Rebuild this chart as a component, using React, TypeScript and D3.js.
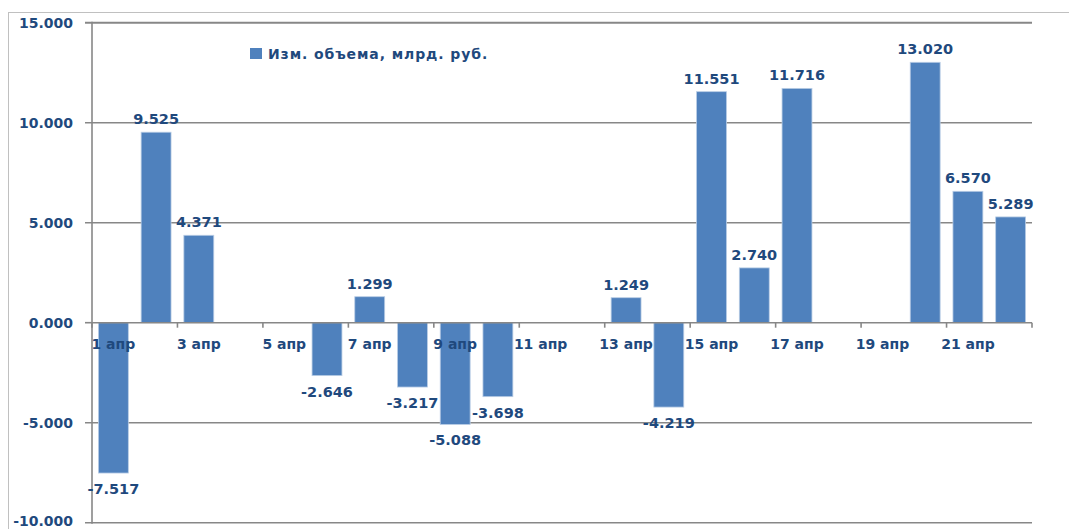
import React from "react";
import * as d3 from "d3";

const days = ["1 апр","2 апр","3 апр","4 апр","5 апр","6 апр","7 апр","8 апр","9 апр","10 апр","11 апр","12 апр","13 апр","14 апр","15 апр","16 апр","17 апр","18 апр","19 апр","20 апр","21 апр","22 апр"];
const values: (number | null)[] = [-7.517, 9.525, 4.371, null, null, -2.646, 1.299, -3.217, -5.088, -3.698, null, null, 1.249, -4.219, 11.551, 2.74, 11.716, null, null, 13.02, 6.57, 5.289];
const yTicks = [-10, -5, 0, 5, 10, 15];
const yTickLabels = ["-10.000", "-5.000", "0.000", "5.000", "10.000", "15.000"];
const seriesName = "Изм. объема, млрд. руб.";

const W = 1069, H = 529;
const left = 92, right = 1032, top = 22.7, bottom = 522.7;
const TEXT = "#1F497D";
const GRID = "#878787";
const BAR = "#4F81BD";
const FONT = "'DejaVu Sans', Verdana, sans-serif";

const fmt = (v: number) => (v < 0 ? "-" : "") + Math.abs(v).toFixed(3);

export default function App() {
  const x = d3.scaleBand<string>().domain(days).range([left, right]).paddingInner(0.3).paddingOuter(0.15);
  const y = d3.scaleLinear().domain([-10, 15]).range([bottom, top]);
  const step = x.step();
  const bw = x.bandwidth();
  const y0 = y(0);
  const boundaries: number[] = [];
  for (let i = 0; i <= days.length; i += 2) boundaries.push(left + i * step);

  return (
    <div style={{ position: "fixed", left: 0, top: 0 }}>
      <svg width={W} height={H} style={{ display: "block", background: "#fff" }}>
        <rect x={8.5} y={12.5} width={1200} height={700} fill="none" stroke="#C0C0C0" strokeWidth={1} />
        {yTicks.map((t, i) => (
          <g key={t}>
            <line x1={left - 7} x2={t === 0 ? left : right} y1={y(t)} y2={y(t)} stroke={GRID} strokeWidth={t === 15 ? 2 : 1.6} />
            <text x={73} y={y(t) + (t === -10 ? 3.5 : 5)} textAnchor="end" fontFamily={FONT} fontWeight="bold" fontSize={14} fill={TEXT}>
              {yTickLabels[i]}
            </text>
          </g>
        ))}
        {values.map((v, i) =>
          v === null ? null : (
            <rect
              key={i}
              x={x(days[i])!}
              y={Math.min(y(v), y0)}
              width={bw}
              height={Math.abs(y(v) - y0)}
              fill={BAR}
              stroke="#B9CDE5"
              strokeWidth={0.8}
            />
          )
        )}
        <line x1={left} x2={left} y1={top - 1} y2={bottom + 1} stroke={GRID} strokeWidth={1.6} />
        <line x1={left} x2={right} y1={y0} y2={y0} stroke={GRID} strokeWidth={1.6} />
        {boundaries.map((b, i) => (
          <line key={i} x1={b} x2={b} y1={y0} y2={y0 + 5} stroke={GRID} strokeWidth={1.6} />
        ))}
        {days.map((d, i) =>
          i % 2 === 0 ? (
            <text key={d} x={x(d)! + bw / 2} y={y0 + 26} textAnchor="middle" fontFamily={FONT} fontWeight="bold" fontSize={14} fill={TEXT}>
              {d}
            </text>
          ) : null
        )}
        {values.map((v, i) =>
          v === null ? null : (
            <text
              key={"l" + i}
              x={x(days[i])! + bw / 2}
              y={v >= 0 ? y(v) - 8 : y(v) + 21}
              textAnchor="middle"
              fontFamily={FONT}
              fontWeight="bold"
              fontSize={14.5}
              fill={TEXT}
            >
              {fmt(v)}
            </text>
          )
        )}
        <rect x={250} y={48} width={12} height={11} fill={BAR} />
        <text x={268} y={58.5} fontFamily={FONT} fontWeight="bold" fontSize={14} letterSpacing={0.9} fill={TEXT}>
          {seriesName}
        </text>
      </svg>
    </div>
  );
}
